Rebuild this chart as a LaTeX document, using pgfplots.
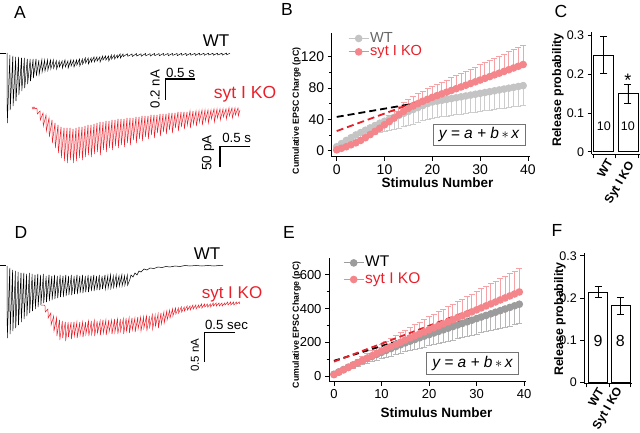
\documentclass[border=0pt]{standalone}
\usepackage{fontspec}
\setmainfont{Liberation Sans}
\usepackage{pgfplots}
\pgfplotsset{compat=1.18}
\definecolor{kored}{HTML}{E8202A}
\definecolor{salmon}{HTML}{F4858A}
\definecolor{salmonerr}{HTML}{F5A3A6}
\definecolor{lgray}{HTML}{C4C4C4}
\definecolor{lgrayerr}{HTML}{CDCDCD}
\definecolor{mgray}{HTML}{9C9C9C}
\definecolor{mgrayerr}{HTML}{B8B8B8}
\newcommand{\fs}[1]{\fontsize{#1}{#1}\selectfont}
\pgfplotsset{panel/.style={scale only axis, anchor=south west, axis x line*=bottom, axis y line*=left,
  axis line style={line width=0.8pt,-}, tick align=outside, major tick length=4pt, minor tick length=2.5pt,
  tick style={black,line width=0.8pt}, /pgf/number format/assume math mode=true, clip=false},
  trace/.style={line width=0.5pt, mark=none},
  scalebar/.style={black, line width=1.1pt, mark=none}}
\tikzset{rotlab/.style={font=\bfseries\fs{12}, rotate=60, anchor=north east, inner sep=0pt}}
\begin{document}
\begin{tikzpicture}
\useasboundingbox (0pt,0pt) rectangle (640pt,433pt);
% ---------- traces (pixel coordinates, y downward) ----------
\begin{axis}[at={(0pt,0pt)}, anchor=south west, scale only axis, width=640pt, height=433pt,
  xmin=0, xmax=640, ymin=0, ymax=433, y dir=reverse, hide axis, clip=false]
% A, WT
\addplot[trace, black] coordinates {(0,53)(6,53)};
\addplot[trace, black] coordinates {
(7.0,53)(7.3,123)(9.9,55)(10.2,110)(12.8,56)(13.1,106)(15.7,57)(16.0,101)(18.6,57)(18.9,95)(21.5,58)(21.8,91)(24.4,58)(24.7,88)(27.3,59)(27.6,84)(30.2,59)(30.5,81)(33.1,59)(33.4,78)(36.0,59)(36.3,76)(38.9,60)(39.2,74)(41.8,60)(42.1,72)(44.7,60)(45.0,71)(47.6,60)(47.9,70)(50.5,60)(50.8,69)(53.4,60)(53.7,68)(56.3,61)(56.6,69)(59.2,61)(59.5,67)(62.1,61)(62.4,68)(65.0,60)(65.3,67)(67.9,61)(68.2,68)(70.8,60)(71.1,66)(73.7,60)(74.0,67)(76.6,60)(76.9,65)(79.5,59)(79.8,66)(82.4,59)(82.7,64)(85.3,58)(85.6,63)(88.2,58)(88.5,64)(91.1,58)(91.4,62)(94.0,57)(94.3,62)(96.9,57)(97.2,61)(99.8,57)(100.1,62)(102.7,56)(103.0,60)(105.6,56)(105.9,60)(108.5,56)(108.8,61)(111.4,55)(111.7,59)(114.3,55)(114.6,59)(117.2,55)(117.5,58)(120.1,54)(120.4,58)
(123,54)(123.3,56.5)(127.5,53.8)(127.8,56.3)(132,54)(132.3,56.5)(136.5,53.6)(136.8,56)(141,53.8)(141.3,56.2)(145.5,53.5)(145.8,55.8)(150,53.7)(150.3,56)(154.5,53.5)(154.8,55.6)(159,53.6)(159.3,55.8)(163.5,53.4)(163.8,55.5)(168,53.5)(168.3,55.7)(172.5,53.4)(172.8,55.4)(177,53.5)(177.3,55.6)(181.5,53.3)(181.8,55.3)(186,53.4)(186.3,55.5)(190.5,53.3)(190.8,55.2)(195,53.4)(195.3,55.4)(199.5,53.2)(199.8,55.1)(204,53.3)(204.3,55.3)(208.5,53.2)(208.8,55)(213,53.3)(213.3,55.2)(217.5,53.2)(217.8,55)(222,53.2)(222.3,55.1)(226.5,53.1)(226.8,54.8)(230,53.2)};
% A, syt I KO
\addplot[trace, kored] coordinates {(32,107)(33,109)(34,107)(35,109)(36,108)
(37,109)(37.3,114)(40,111)(40.3,120)(43,113)(43.3,126)(46,115)(46.3,131)(49,118)(49.3,137)(52,120)(52.3,143)(55,123)(55.3,148)(58,125)(58.3,153)(61,127)(61.3,158)(64,128)(64.3,161)(67,128)(67.3,163)(70,128)(70.3,160)(73,129)(73.3,163)(76,128)(76.3,161)(79,127)(79.3,158)(82,127)(82.3,160)(85,126)(85.3,157)(88,125)(88.3,155)(91,125)(91.3,157)(94,124)(94.3,154)(97,123)(97.3,152)(100,122)(100.3,155)(103,122)(103.3,150)(106,121)(106.3,152)(109,121)(109.3,148)(112,120)(112.3,150)(115,120)(115.3,146)(118,119)(118.3,148)(121,119)(121.3,145)(124,119)(124.3,147)(127,118)(127.3,143)(130,118)(130.3,145)(133,118)(133.3,140)(136,117)(136.3,143)(139,117)(139.3,139)(142,116)(142.3,141)(145,116)(145.3,137)(148,116)(148.3,139)(151,115)(151.3,135)(154,115)(154.3,138)(157,115)(157.3,133)(160,114)(160.3,136)(163,114)(163.3,132)(166,114)(166.3,134)(169,113)(169.3,130)(172,113)(172.3,133)(175,113)(175.3,128)(178,112)(178.3,131)(181,112)(181.3,127)(184,112)(184.3,129)(187,112)(187.3,125)(190,111)(190.3,128)(193,111)(193.3,124)(196,111)(196.3,126)(199,111)(199.3,122)(202,110)(202.3,125)(205,110)(205.3,121)(208,110)(208.3,123)(211,110)(211.3,119)(214,109)(214.3,122)(217,109)(217.3,118)(220,109)(220.3,120)(223,109)(223.3,117)(226,109)(226.3,119)(229,108)(229.3,116)(232,108)(232.3,118)(235,108)(235.3,115)(238,108)(238.3,116)(240,110)};
% D, WT
\addplot[trace, black] coordinates {(0,265.5)(6,265.5)};
\addplot[trace, black] coordinates {
(7.0,266)(7.3,338)(9.8,268)(10.1,334)(12.6,270)(12.9,331)(15.4,271)(15.7,328)(18.2,272)(18.5,325)(21.0,273)(21.3,322)(23.8,273)(24.1,319)(26.6,274)(26.9,316)(29.4,273)(29.7,313)(32.2,274)(32.5,311)(35.0,275)(35.3,309)(37.8,274)(38.1,307)(40.6,275)(40.9,305)(43.4,274)(43.7,303)(46.2,276)(46.5,302)(49.0,275)(49.3,301)(51.8,276)(52.1,300)(54.6,275)(54.9,299)(57.4,276)(57.7,298)(60.2,275)(60.5,297)(63.0,276)(63.3,297)(65.8,275)(66.1,296)(68.6,276)(68.9,295)(71.4,275)(71.7,295)(74.2,276)(74.5,294)(77.0,275)(77.3,294)(79.8,276)(80.1,293)(82.6,275)(82.9,293)(85.4,276)(85.7,292)(88.2,275)(88.5,292)(91.0,276)(91.3,291)(93.8,275)(94.1,291)(96.6,276)(96.9,290)(99.4,275)(99.7,290)(102.2,276)(102.5,289)(105.0,275)(105.3,289)(107.8,276)(108.1,288)(110.6,275)(110.9,288)(113.4,276)(113.7,287)(116.2,275)(116.5,287)(119.0,276)(119.3,286)(121.8,275)(122.1,286)(124.6,276)(124.9,285)(127.4,275)(127.7,285)
(130,279)(131,275)(133,277)(135,273)(137,275)(139,271)(141,272)(144,269)(147,270)(150,268)(154,268.5)(158,267)(162,267.5)(166,266.5)(170,267)(175,266)(180,266.5)(185,265.5)(190,266)(196,265.5)(202,266)(208,265.5)(214,266)(219,265.5)(223,265.5)};
% D, syt I KO
\addplot[trace, kored] coordinates {(41,305)(44,305)
(45,306)(45.3,312)(47.9,309)(48.2,318)(50.8,313)(51.1,325)(53.7,316)(54.0,331)(56.6,318)(56.9,336)(59.5,320)(59.8,340)(62.4,321)(62.7,338)(65.3,322)(65.6,341)(68.2,322)(68.5,337)(71.1,322)(71.4,339)(74.0,322)(74.3,336)(76.9,322)(77.2,338)(79.8,322)(80.1,335)(82.7,322)(83.0,337)(85.6,322)(85.9,334)(88.5,321)(88.8,336)(91.4,321)(91.7,334)(94.3,321)(94.6,336)(97.2,321)(97.5,333)(100.1,321)(100.4,335)(103.0,320)(103.3,333)(105.9,320)(106.2,335)(108.8,320)(109.1,332)(111.7,320)(112.0,334)(114.6,319)(114.9,332)(117.5,319)(117.8,334)(120.4,319)(120.7,331)(123.3,319)(123.6,334)(126.2,318)(126.5,331)(129.1,318)(129.4,333)(132.0,318)(132.3,330)(134.9,318)(135.2,332)(137.8,317)(138.1,329)(140.7,317)(141.0,331)(143.6,317)(143.9,328)(146.5,316)(146.8,331)(149.4,316)(149.7,327)(152.3,315)(152.6,329)(155.2,315)(155.5,326)(158.1,314)(158.4,328)(161.0,313)(161.3,324)(163.9,312)(164.2,323)(166.8,311)(167.1,320)(169.7,310)(170.0,318)(172.6,309)(172.9,316)(175.5,308)(175.8,314)(178.4,308)(178.7,313)(181.3,307)(181.6,312)(184.2,307)(184.5,311)(187.1,306)(187.4,310)(190.0,306)(190.3,310)(192.9,305)(193.2,309)(195.8,305)(196.1,309)(198.7,305)(199.0,308)(201.6,304)(201.9,308)(204.5,304)(204.8,307)(207.4,304)(207.7,307)(210.3,304)(210.6,307)(213.2,303)(213.5,306)(216.1,303)(216.4,306)(219.0,303)(219.3,306)(221.9,303)(222.2,306)(224.8,303)(225.1,305)(227.7,302)(228.0,305)(230.6,302)(230.9,305)(233.5,302)(233.8,305)(236.4,302)(236.7,304)(239.3,302)(239.6,304)};
% scale bars
\addplot[scalebar] coordinates {(195,79)(165.7,79)(165.7,100)};
\addplot[scalebar] coordinates {(250,146.7)(220,146.7)(220,166.7)};
\addplot[scalebar] coordinates {(235,332.7)(204.3,332.7)(204.3,361.7)};
\end{axis}
% ---------- text of A and D ----------
\node[font=\fs{17.5}] at (20pt,421pt) {A};
\node[font=\fs{17.5}] at (287pt,424pt) {B};
\node[font=\fs{17.5}] at (561pt,422pt) {C};
\node[font=\fs{17.5}] at (21pt,201pt) {D};
\node[font=\fs{17.5}] at (289pt,201pt) {E};
\node[font=\fs{17.5}] at (557pt,203pt) {F};
\node[font=\fs{17}] at (216pt,392pt) {WT};
\node[font=\fs{17.5}, text=kored] at (245pt,339pt) {syt I KO};
\node[font=\fs{13.3}] at (180.5pt,360.5pt) {0.5 s};
\node[font=\fs{13.2}, rotate=90] at (155pt,344pt) {0.2 nA};
\node[font=\fs{13.3}] at (236.7pt,295pt) {0.5 s};
\node[font=\fs{13.5}, rotate=90] at (208pt,280pt) {50 pA};
\node[font=\fs{17}] at (207pt,179pt) {WT};
\node[font=\fs{17}, text=kored] at (232pt,139pt) {syt I KO};
\node[font=\fs{13.3}] at (226.5pt,108pt) {0.5 sec};
\node[font=\fs{11.5}, rotate=90] at (195pt,78pt) {0.5 nA};
% ---------- B ----------
\begin{axis}[panel, at={(331.7pt,276.3pt)}, width=198.6pt, height=123.7pt,
  xmin=-1.05, xmax=40.5, ymin=-7.7, ymax=150, xtick={0,10,20,30,40}, ytick={0,40,80,120},
  minor y tick num=1, ticklabel style={font=\fs{14}},
  legend style={at={(0.082,1.014)}, anchor=north west, draw=none, fill=none, inner sep=0pt,
    font=\fs{14.6}, row sep=-0.6pt, nodes={inner sep=1pt, text height=10pt, text depth=2pt}, cells={anchor=west}},
  legend image code/.code={\draw[mark repeat=2,mark phase=2] plot coordinates {(0pt,0pt) (10pt,0pt) (20pt,0pt)};}]
\addplot[lgray, line width=1pt, mark=*, mark size=3.3pt, mark options={fill=lgray, draw=lgray},
  error bars/.cd, y dir=minus, y explicit, error bar style={lgrayerr, line width=0.8pt},
  error mark options={lgrayerr, rotate=90, mark size=3pt, line width=0.8pt}]
coordinates {(0,5) +- (0,1.5) (1,9) +- (0,3) (2,13) +- (0,4.5) (3,16.5) +- (0,6) (4,20) +- (0,7) (5,23) +- (0,8) (6,26) +- (0,9) (7,29) +- (0,10) (8,32) +- (0,11) (9,35) +- (0,12) (10,37.5) +- (0,13) (11,40) +- (0,14) (12,42.5) +- (0,15) (13,45) +- (0,16) (14,47.5) +- (0,17) (15,50) +- (0,18) (16,52.5) +- (0,18.5) (17,55) +- (0,19) (18,57.5) +- (0,19.5) (19,60) +- (0,20) (20,62) +- (0,20.5) (21,63.1) +- (0,20.7) (22,64.2) +- (0,21) (23,65.3) +- (0,21.2) (24,66.4) +- (0,21.5) (25,67.5) +- (0,21.7) (26,68.6) +- (0,22) (27,69.7) +- (0,22.2) (28,70.8) +- (0,22.5) (29,71.9) +- (0,22.7) (30,73) +- (0,23) (31,74.1) +- (0,23.2) (32,75.2) +- (0,23.5) (33,76.3) +- (0,23.7) (34,77.4) +- (0,24) (35,78.5) +- (0,24.2) (36,79.6) +- (0,24.5) (37,80.7) +- (0,24.7) (38,81.8) +- (0,25) (39,82.9) +- (0,25.2)};
\addlegendentry{\textcolor{black!60}{WT}}
\addplot[salmon, line width=1pt, mark=*, mark size=3.3pt, mark options={fill=salmon, draw=salmon},
  error bars/.cd, y dir=plus, y explicit, error bar style={salmonerr, line width=0.8pt},
  error mark options={salmonerr, rotate=90, mark size=3pt, line width=0.8pt}]
coordinates {(0,1) +- (0,0.5) (1,3) +- (0,1) (2,5) +- (0,1.5) (3,7.5) +- (0,2) (4,10) +- (0,2.5) (5,13) +- (0,3) (6,16.5) +- (0,3.5) (7,20.5) +- (0,4.5) (8,24.5) +- (0,5) (9,28.5) +- (0,6) (10,33) +- (0,7) (11,37) +- (0,8) (12,41.5) +- (0,9) (13,46) +- (0,10) (14,50) +- (0,11) (15,54) +- (0,11.5) (16,57) +- (0,12) (17,60) +- (0,12.5) (18,63) +- (0,13) (19,65.5) +- (0,13.5) (20,68) +- (0,14) (21,70.2) +- (0,14.5) (22,72.4) +- (0,15) (23,74.6) +- (0,15.5) (24,76.8) +- (0,16) (25,79) +- (0,16.5) (26,81.2) +- (0,17) (27,83.4) +- (0,17.5) (28,85.6) +- (0,18) (29,87.8) +- (0,18.5) (30,90) +- (0,19.5) (31,92.2) +- (0,20) (32,94.4) +- (0,20.5) (33,96.6) +- (0,21) (34,98.8) +- (0,21.5) (35,101) +- (0,22) (36,103.2) +- (0,23) (37,105.4) +- (0,23.5) (38,107.6) +- (0,24) (39,109.8) +- (0,25)};
\addlegendentry{\textcolor{kored}{syt I KO}}
\addplot[black, line width=1.8pt, dash pattern=on 7pt off 4pt, forget plot] coordinates {(0,43)(39,84)};
\addplot[kored, line width=1.8pt, dash pattern=on 7pt off 4pt, forget plot] coordinates {(0,25)(39,112)};
\end{axis}
\node[draw=black!55, line width=0.6pt, minimum width=92pt, minimum height=21.7pt, inner sep=0pt, font=\fs{15.5}\itshape] at (479pt,298.2pt) {y = a + b\,$\ast$\,x};
\node[font=\bfseries\fs{8.8}, rotate=90] at (296.7pt,322pt) {Cumulative EPSC Charge (pC)};
\node[font=\bfseries\fs{13.5}] at (437.5pt,250pt) {Stimulus Number};
% ---------- C ----------
\begin{axis}[panel, at={(591.7pt,278.7pt)}, width=48.3pt, height=122.6pt,
  xmin=0.5, xmax=2.5, ymin=-0.0067, ymax=0.31, ytick={0,0.1,0.2,0.3}, yticklabels={0,0.1,0.2,0.3},
  xtick={0.554,1.465,2.417}, xticklabels={,,}, ticklabel style={font=\fs{12.5}}]
\addplot[ybar, bar width=20pt, fill=white, draw=black, line width=0.8pt,
  error bars/.cd, y dir=both, y explicit, error bar style={black, line width=0.8pt},
  error mark options={black, rotate=90, mark size=3.5pt, line width=0.8pt}]
coordinates {(1,0.25) +- (0,0.047) (2,0.15) +- (0,0.024)};
\node[font=\fs{12.5}] at (axis cs:1,0.066) {10};
\node[font=\fs{12.5}] at (axis cs:2,0.066) {10};
\node[font=\fs{18}] at (axis cs:2,0.185) {*};
\end{axis}
\node[rotlab] at (606pt,275pt) {WT};
\node[rotlab] at (627pt,273pt) {Syt I KO};
\node[font=\bfseries\fs{12.4}, rotate=90] at (558pt,343pt) {Release probability};
% ---------- E ----------
\begin{axis}[panel, at={(329pt,51.3pt)}, width=197.4pt, height=123.4pt,
  xmin=-1.05, xmax=40.5, ymin=-34, ymax=698, xtick={0,10,20,30,40}, ytick={0,200,400,600},
  minor y tick num=1, ticklabel style={font=\fs{13}},
  legend style={at={(0.071,1.021)}, anchor=north west, draw=none, fill=none, inner sep=0pt,
    font=\fs{15.5}, row sep=2.6pt, nodes={inner sep=1pt, text height=10pt, text depth=2pt}, cells={anchor=west}},
  legend image code/.code={\draw[mark repeat=2,mark phase=2] plot coordinates {(0pt,0pt) (10pt,0pt) (20pt,0pt)};}]
\addplot[mgray, line width=1pt, mark=*, mark size=3.3pt, mark options={fill=mgray, draw=mgray},
  error bars/.cd, y dir=minus, y explicit, error bar style={mgrayerr, line width=0.8pt},
  error mark options={mgrayerr, rotate=90, mark size=3pt, line width=0.8pt}]
coordinates {(0,10) +- (0,3) (1,24) +- (0,6) (2,38) +- (0,10) (3,52) +- (0,14) (4,65) +- (0,18) (5,78) +- (0,21) (6,91) +- (0,25) (7,104) +- (0,28) (8,116) +- (0,31) (9,128) +- (0,35) (10,140) +- (0,38) (11,152) +- (0,41) (12,163) +- (0,44) (13,174) +- (0,47) (14,185) +- (0,50) (15,196) +- (0,53) (16,206) +- (0,56) (17,216) +- (0,58) (18,226) +- (0,61) (19,236) +- (0,64) (20,245) +- (0,66) (21,254.5) +- (0,69) (22,264) +- (0,71) (23,273.5) +- (0,74) (24,283) +- (0,76) (25,292.5) +- (0,79) (26,302) +- (0,82) (27,311.5) +- (0,84) (28,321) +- (0,87) (29,330.5) +- (0,89) (30,340) +- (0,92) (31,349.5) +- (0,94) (32,359) +- (0,97) (33,368.5) +- (0,99) (34,378) +- (0,102) (35,387.5) +- (0,105) (36,397) +- (0,107) (37,406.5) +- (0,110) (38,416) +- (0,112) (39,425.5) +- (0,115)};
\addlegendentry{WT}
\addplot[salmon, line width=1pt, mark=*, mark size=3.3pt, mark options={fill=salmon, draw=salmon},
  error bars/.cd, y dir=plus, y explicit, error bar style={salmonerr, line width=0.8pt},
  error mark options={salmonerr, rotate=90, mark size=3pt, line width=0.8pt}]
coordinates {(0,8) +- (0,2) (1,22) +- (0,6) (2,36) +- (0,10) (3,50) +- (0,14) (4,64) +- (0,18) (5,78) +- (0,22) (6,92) +- (0,26) (7,106) +- (0,30) (8,120) +- (0,34) (9,134) +- (0,38) (10,148) +- (0,41) (11,161) +- (0,45) (12,174) +- (0,49) (13,187) +- (0,52) (14,200) +- (0,56) (15,213) +- (0,60) (16,226) +- (0,63) (17,238) +- (0,67) (18,250) +- (0,70) (19,262) +- (0,73) (20,274) +- (0,77) (21,285.8) +- (0,80) (22,297.6) +- (0,83) (23,309.4) +- (0,87) (24,321.2) +- (0,90) (25,333) +- (0,93) (26,344.8) +- (0,97) (27,356.6) +- (0,100) (28,368.4) +- (0,103) (29,380.2) +- (0,106) (30,392) +- (0,110) (31,403.8) +- (0,113) (32,415.6) +- (0,116) (33,427.4) +- (0,120) (34,439.2) +- (0,123) (35,451) +- (0,126) (36,462.8) +- (0,130) (37,474.6) +- (0,133) (38,486.4) +- (0,136) (39,498.2) +- (0,140)};
\addlegendentry{\textcolor{kored}{syt I KO}}
\addplot[black, line width=1.8pt, dash pattern=on 6pt off 4pt, forget plot] coordinates {(0,90)(39,430)};
\addplot[kored, line width=1.8pt, dash pattern=on 6pt off 4pt, forget plot] coordinates {(0,85)(39,500)};
\end{axis}
\node[draw=black!55, line width=0.6pt, minimum width=91.6pt, minimum height=21.7pt, inner sep=0pt, font=\fs{15.5}\itshape] at (472.5pt,69.8pt) {y = a + b\,$\ast$\,x};
\node[font=\bfseries\fs{8.8}, rotate=90] at (296.7pt,108pt) {Cumulative EPSC Charge (pC)};
\node[font=\bfseries\fs{13.5}] at (436.5pt,20.3pt) {Stimulus Number};
% ---------- F ----------
\begin{axis}[panel, at={(584.3pt,49.7pt)}, width=47.7pt, height=130pt,
  xmin=0.377, xmax=2.52, ymin=-0.0024, ymax=0.306, ytick={0,0.1,0.2,0.3}, yticklabels={0,0.1,0.2,0.3},
  xtick={0.485,1.485,2.47}, xticklabels={,,}, ticklabel style={font=\fs{12.5}}]
\addplot[ybar, bar width=19pt, fill=white, draw=black, line width=0.8pt,
  error bars/.cd, y dir=both, y explicit, error bar style={black, line width=0.8pt},
  error mark options={black, rotate=90, mark size=3.5pt, line width=0.8pt}]
coordinates {(1,0.214) +- (0,0.013) (2,0.182) +- (0,0.02)};
\node[font=\fs{16}] at (axis cs:1,0.099) {9};
\node[font=\fs{16}] at (axis cs:2,0.099) {8};
\end{axis}
\node[rotlab] at (597pt,46.5pt) {WT};
\node[rotlab] at (615pt,47.5pt) {Syt I KO};
\node[font=\bfseries\fs{12.4}, rotate=90] at (560pt,114pt) {Release probability};
\end{tikzpicture}
\end{document}
